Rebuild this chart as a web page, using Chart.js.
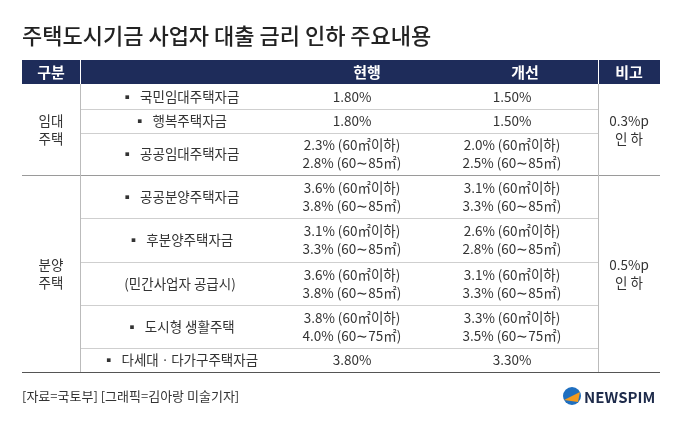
<!DOCTYPE html>
<html><head><meta charset="utf-8">
<script src="https://cdn.jsdelivr.net/npm/chart.js@4"></script>
<style>html,body{margin:0;padding:0;background:#fff}#wrap{position:relative;width:680px;height:426px}</style>
</head><body><div id="wrap"><canvas id="c"></canvas></div>
<script>
const title = "주택도시기금 사업자 대출 금리 인하 주요내용";
const headers = ["구분", "", "현행", "개선", "비고"];
const groups = ["임대\n주택", "분양\n주택"];
const groupRows = [[0, 2], [3, 7]];
const items = ["국민임대주택자금", "행복주택자금", "공공임대주택자금", "공공분양주택자금", "후분양주택자금", "(민간사업자 공급시)", "도시형 생활주택", "다세대ㆍ다가구주택자금"];
const bullets = [true, true, true, true, true, false, true, true];
const current = ["1.80%", "1.80%", "2.3% (60㎡이하)\n2.8% (60∼85㎡)", "3.6% (60㎡이하)\n3.8% (60∼85㎡)", "3.1% (60㎡이하)\n3.3% (60∼85㎡)", "3.6% (60㎡이하)\n3.8% (60∼85㎡)", "3.8% (60㎡이하)\n4.0% (60∼75㎡)", "3.80%"];
const improved = ["1.50%", "1.50%", "2.0% (60㎡이하)\n2.5% (60∼85㎡)", "3.1% (60㎡이하)\n3.3% (60∼85㎡)", "2.6% (60㎡이하)\n2.8% (60∼85㎡)", "3.1% (60㎡이하)\n3.3% (60∼85㎡)", "3.3% (60㎡이하)\n3.5% (60∼75㎡)", "3.30%"];
const notes = ["0.3%p\n인 하", "0.5%p\n인 하"];
const source = "[자료=국토부] [그래픽=김아랑 미술기자]";

const rowEdges = [84, 109, 133, 175, 218, 262, 305, 348, 372];
const colCenters = [51, 180, 352, 512, 629];
const headCenters = [51, 180, 367, 525, 629];
const F = '"Noto Sans CJK KR", "Noto Sans", sans-serif';

const tablePlugin = {
  id: 'table',
  afterDraw(chart) {
    const ctx = chart.ctx, sx = chart.scales.x, sy = chart.scales.y;
    const X = v => sx.getPixelForValue(v), Y = v => sy.getPixelForValue(v);
    ctx.save();
    ctx.fillStyle = '#222';
    ctx.font = '500 22px ' + F;
    ctx.textBaseline = 'middle';
    ctx.fillText(title, X(22), Y(36));
    ctx.fillStyle = '#1e2c5a';
    ctx.fillRect(X(22), Y(60), X(660) - X(22), Y(84) - Y(60));
    ctx.strokeStyle = '#fff'; ctx.lineWidth = 1;
    [80, 598].forEach(x => { ctx.beginPath(); ctx.moveTo(X(x) + .5, Y(60)); ctx.lineTo(X(x) + .5, Y(84)); ctx.stroke(); });
    ctx.fillStyle = '#fff'; ctx.font = 'bold 15px ' + F; ctx.textAlign = 'center';
    headers.forEach((h, i) => ctx.fillText(h, X(headCenters[i]), Y(72)));
    for (let r = 1; r < rowEdges.length - 1; r++) {
      const full = r === 3;
      ctx.strokeStyle = full ? '#9a9a9a' : '#cfcfcf';
      ctx.beginPath(); ctx.moveTo(X(full ? 22 : 80), Y(rowEdges[r]) + .5); ctx.lineTo(X(full ? 660 : 598), Y(rowEdges[r]) + .5); ctx.stroke();
    }
    ctx.strokeStyle = '#555';
    ctx.beginPath(); ctx.moveTo(X(22), Y(372) + .5); ctx.lineTo(X(660), Y(372) + .5); ctx.stroke();
    ctx.strokeStyle = '#bbb';
    [80, 598].forEach(x => { ctx.beginPath(); ctx.moveTo(X(x) + .5, Y(84)); ctx.lineTo(X(x) + .5, Y(372)); ctx.stroke(); });
    const multi = (txt, cx, cy, lh) => {
      const ls = txt.split('\n');
      ls.forEach((l, i) => ctx.fillText(l, X(cx), Y(cy + (i - (ls.length - 1) / 2) * lh)));
    };
    ctx.fillStyle = '#333'; ctx.font = '13.5px ' + F;
    groups.forEach((g, gi) => {
      const [a, b] = groupRows[gi];
      const cy = (rowEdges[a] + rowEdges[b + 1]) / 2;
      multi(g, colCenters[0], cy, 18);
      multi(notes[gi], colCenters[4], cy, 18);
    });
    items.forEach((it, i) => {
      const cy = (rowEdges[i] + rowEdges[i + 1]) / 2;
      multi((bullets[i] ? '▪  ' : '') + it, colCenters[1], cy, 18);
      multi(current[i], colCenters[2], cy, 18);
      multi(improved[i], colCenters[3], cy, 18);
    });
    ctx.textAlign = 'left'; ctx.fillStyle = '#333'; ctx.font = '13px ' + F;
    ctx.fillText(source, X(22), Y(396));
    ctx.fillStyle = '#1f6fc0';
    ctx.beginPath(); ctx.arc(X(572), Y(396), 9, 0, Math.PI * 2); ctx.fill();
    ctx.fillStyle = '#f29a1f';
    ctx.beginPath(); ctx.moveTo(X(564), Y(400)); ctx.lineTo(X(580), Y(392)); ctx.lineTo(X(578), Y(402)); ctx.closePath(); ctx.fill();
    ctx.fillStyle = '#1d2a4a'; ctx.font = 'bold 15px ' + F;
    ctx.fillText('NEWSPIM', X(584), Y(397));
    ctx.restore();
  }
};

new Chart(document.getElementById('c'), {
  type: 'scatter',
  data: { datasets: [{ data: [] }] },
  options: {
    responsive: true, maintainAspectRatio: false, animation: false,
    layout: { padding: 0 },
    plugins: { legend: { display: false }, tooltip: { enabled: false } },
    scales: {
      x: { type: 'linear', min: 0, max: 680, display: false },
      y: { type: 'linear', min: 0, max: 426, reverse: true, display: false }
    }
  },
  plugins: [tablePlugin]
});
</script></body></html>
